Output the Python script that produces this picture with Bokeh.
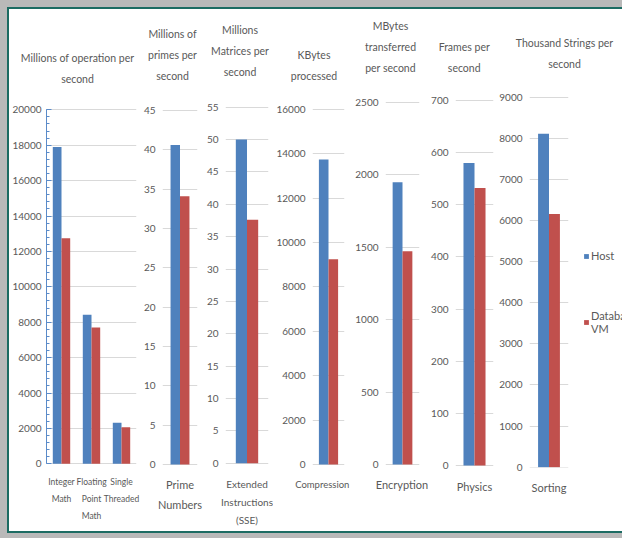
from bokeh.plotting import figure
from bokeh.models import (ColumnDataSource, FactorRange, Range1d, SingleIntervalTicker,
                          Legend, LegendItem)
from bokeh.core.properties import value
from bokeh.transform import dodge
from bokeh.layouts import row, column
from bokeh.embed import file_html
from bokeh.resources import INLINE

HOST_COLOR = "#4F81BD"
VM_COLOR = "#C0504D"
TEXT_COLOR = "#595959"
GRID_COLOR = "#D9D9D9"
FONT = "Lato"

# ---- benchmark results (Host vs Database VM) ----
cpu_tests = ["Integer\nMath", "Floating\nPoint\nMath", "Single\nThreaded"]
cpu_host = [17900, 8420, 2320]
cpu_vm = [12740, 7700, 2060]

prime_tests = ["Prime\nNumbers"]
prime_host = [40.6]
prime_vm = [34.1]

sse_tests = ["Extended\nInstructions\n(SSE)"]
sse_host = [50.0]
sse_vm = [37.6]

comp_tests = ["Compression"]
comp_host = [13730]
comp_vm = [9240]

enc_tests = ["Encryption"]
enc_host = [1950]
enc_vm = [1473]

phys_tests = ["Physics"]
phys_host = [580]
phys_vm = [532]

sort_tests = ["Sorting"]
sort_host = [8110]
sort_vm = [6160]

units = [
    "Millions of operation per\nsecond",
    "Millions of\nprimes per\nsecond",
    "Millions\nMatrices per\nsecond",
    "KBytes\nprocessed",
    "MBytes\ntransferred\nper second",
    "Frames per\nsecond",
    "Thousand Strings per\nsecond",
]
axis_max = [20000, 45, 55, 16000, 2500, 700, 9000]
axis_step = [2000, 5, 5, 2000, 500, 100, 1000]
series_names = ["Host", "Database\nVM"]

series = [
    (cpu_tests, cpu_host, cpu_vm),
    (prime_tests, prime_host, prime_vm),
    (sse_tests, sse_host, sse_vm),
    (comp_tests, comp_host, comp_vm),
    (enc_tests, enc_host, enc_vm),
    (phys_tests, phys_host, phys_vm),
    (sort_tests, sort_host, sort_vm),
]

# ---- page geometry (pixels from the top of the white area) ----
STRIP_H = 80          # caption strip above the panels
H = 522 - STRIP_H     # panel height
FRAME_TOP = 87        # plot frames (shared by all panels)
FRAME_BOTTOM = 458
LINE_STEP = 21

# per panel: width, left/right border, bar width, category label size / line height /
# standoff, tick label standoff, caption centre x / first line y,
# pixel rows of the top tick and of zero
layout_spec = [
    dict(w=131, l=35, r=4, bw=0.29, cs="8.5px", lh=1.72, cso=9, so=5, cx=68, cy=48, top=100.3, zero=454.3),
    dict(w=63, l=20, r=6, bw=0.27, cs="11px", lh=1.6, cso=10, so=7, cx=163, cy=24, top=101, zero=455),
    dict(w=70, l=20, r=5, bw=0.26, cs="10px", lh=1.5, cso=10, so=7, cx=230.5, cy=20, top=97.7, zero=453.7),
    dict(w=79, l=37, r=8, bw=0.30, cs="9.5px", lh=1.5, cso=11, so=7, cx=304.5, cy=45, top=99.7, zero=455),
    dict(w=76, l=31, r=9, bw=0.29, cs="11px", lh=1.5, cso=10, so=7, cx=381, cy=16, top=93, zero=455),
    dict(w=68, l=25, r=3, bw=0.29, cs="11px", lh=1.5, cso=12, so=7, cx=454.7, cy=37, top=91, zero=456),
    dict(w=76, l=33, r=4, bw=0.28, cs="11px", lh=1.5, cso=13, so=7, cx=555, cy=33, top=87.7, zero=457.7),
]
MB_TOP = FRAME_TOP - STRIP_H
MB_BOTTOM = STRIP_H + H - FRAME_BOTTOM

# ---- caption strip: one centred text per caption line ----
cap_x, cap_y, cap_t = [], [], []
for title, spec in zip(units, layout_spec):
    for k, line in enumerate(title.split("\n")):
        cap_x.append(spec["cx"])
        cap_y.append(spec["cy"] + k * LINE_STEP)
        cap_t.append(line)

strip = figure(width=613, height=STRIP_H, output_backend="svg", toolbar_location=None,
               x_range=Range1d(0, 613), y_range=Range1d(STRIP_H, 0),
               min_border_left=0, min_border_right=0, min_border_top=0, min_border_bottom=0)
strip.axis.visible = False
strip.grid.visible = False
strip.outline_line_color = None
strip.border_fill_color = "white"
strip.text(x="x", y="y", text="text",
           source=ColumnDataSource(dict(x=cap_x, y=cap_y, text=cap_t)),
           text_align="center", text_baseline="middle", text_font=value(FONT),
           text_font_size=value("10.5px"), text_color=TEXT_COLOR)

figs = []
for i, ((cats, host, vm), ymax, step, spec) in enumerate(
        zip(series, axis_max, axis_step, layout_spec)):
    # value range padded so that zero and the top tick fall on their pixel rows
    ppu = (spec["zero"] - spec["top"]) / ymax
    y0 = -(FRAME_BOTTOM - spec["zero"]) / ppu
    y1 = ymax + (spec["top"] - FRAME_TOP) / ppu
    src = ColumnDataSource(dict(cat=cats, host=host, vm=vm))
    p = figure(width=spec["w"], height=H, output_backend="svg", toolbar_location=None,
               x_range=FactorRange(factors=cats, range_padding=0),
               y_range=Range1d(y0, y1),
               min_border_left=spec["l"], min_border_right=spec["r"],
               min_border_top=MB_TOP, min_border_bottom=MB_BOTTOM)
    p.outline_line_color = None
    p.background_fill_color = "white"
    p.border_fill_color = "white"
    bw = spec["bw"]
    p.vbar(x=dodge("cat", -bw / 2, range=p.x_range), top="host", width=bw,
           source=src, color=HOST_COLOR, line_color=None)
    p.vbar(x=dodge("cat", bw / 2, range=p.x_range), top="vm", width=bw,
           source=src, color=VM_COLOR, line_color=None)

    p.yaxis.ticker = SingleIntervalTicker(interval=step, num_minor_ticks=5)
    p.yaxis.major_label_text_font = FONT
    p.yaxis.major_label_text_font_size = "10px"
    p.yaxis.major_label_text_color = TEXT_COLOR
    p.yaxis.major_label_standoff = spec["so"]
    p.yaxis.bounds = (0, ymax)
    if i == 0:
        # value axis of the first panel is shown with its line and tick marks
        p.yaxis.axis_line_color = "#5B8BC9"
        p.yaxis.major_tick_line_color = "#5B8BC9"
        p.yaxis.minor_tick_line_color = "#5B8BC9"
        p.yaxis.major_tick_in = 5
        p.yaxis.major_tick_out = 0
        p.yaxis.minor_tick_in = 3
        p.yaxis.minor_tick_out = 0
    else:
        p.yaxis.axis_line_color = None
        p.yaxis.major_tick_line_color = None
        p.yaxis.minor_tick_line_color = None
        p.yaxis.major_tick_out = 0
        p.yaxis.minor_tick_out = 0

    p.xaxis.axis_line_color = None
    p.xaxis.major_tick_line_color = None
    p.xaxis.minor_tick_line_color = None
    p.xaxis.major_tick_out = 0
    p.xaxis.major_label_standoff = spec["cso"]
    p.xaxis.major_label_text_font = FONT
    p.xaxis.major_label_text_font_size = spec["cs"]
    p.xaxis.major_label_text_color = TEXT_COLOR
    p.xaxis.major_label_text_line_height = spec["lh"]

    p.xgrid.grid_line_color = None
    p.ygrid.grid_line_color = GRID_COLOR
    figs.append(p)

# ---- legend panel on the right ----
lg = figure(width=50, height=H, output_backend="svg", toolbar_location=None,
            x_range=Range1d(0, 1), y_range=Range1d(0, 1),
            min_border_left=0, min_border_right=0,
            min_border_top=MB_TOP, min_border_bottom=MB_BOTTOM)
lg.axis.visible = False
lg.grid.visible = False
lg.outline_line_color = None
lg.border_fill_color = "white"
lg.background_fill_color = "white"
key_src = ColumnDataSource(dict(x=[0.0], top=[0.0]))
key_host = lg.vbar(x="x", top="top", width=0.0, source=key_src, color=HOST_COLOR, line_color=None)
key_vm = lg.vbar(x="x", top="top", width=0.0, source=key_src, color=VM_COLOR, line_color=None)
legend = Legend(items=[LegendItem(label=series_names[0], renderers=[key_host]),
                       LegendItem(label=series_names[1], renderers=[key_vm])],
                location=(11, 132), glyph_width=6, glyph_height=6, label_standoff=2,
                label_height=12, spacing=47, padding=0, margin=0,
                border_line_color=None, background_fill_alpha=0,
                label_text_font=FONT, label_text_font_size="11px",
                label_text_color=TEXT_COLOR)
lg.add_layout(legend)
figs.append(lg)

inner = column(strip, row(*figs),
               styles={"border-top": "2px solid #1c6b62",
                       "border-left": "2px solid #1c6b62",
                       "border-bottom": "2px solid #1c6b62",
                       "background-color": "white"})
page = row(inner, styles={"background-color": "#b9b9b9",
                          "padding": "7px 0px 5px 7px"})

open("out.html", "w").write(file_html(page, INLINE))
